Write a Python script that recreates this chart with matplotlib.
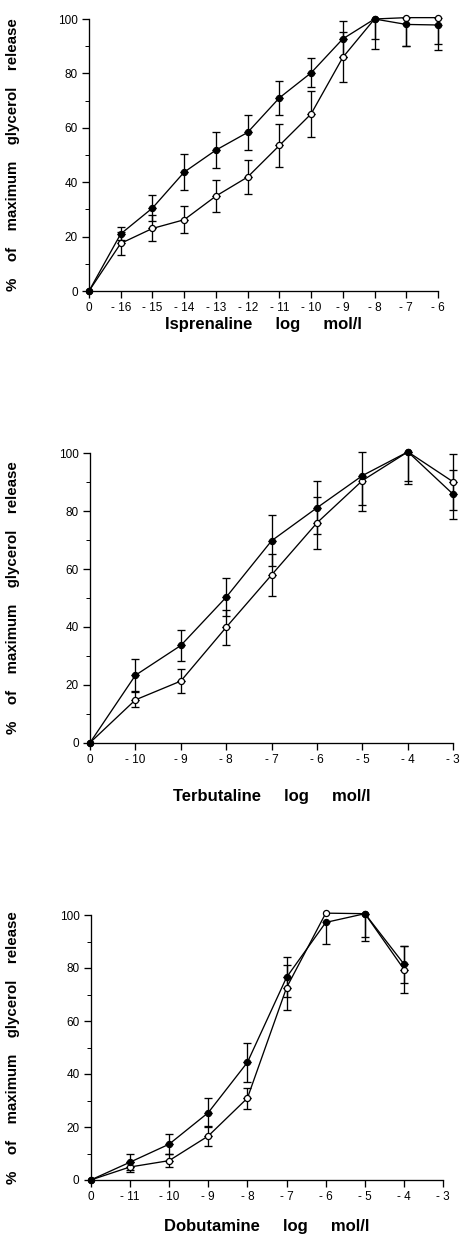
import matplotlib
matplotlib.use("Agg")
import matplotlib.pyplot as plt
import numpy as np

# ---------------- data ----------------
iso_labels = ["0", "-16", "-15", "-14", "-13", "-12", "-11", "-10", "-9", "-8", "-7", "-6"]
iso_filled = [0, 21, 30.5, 43.7, 51.8, 58.3, 71, 80.2, 92.7, 100, 98, 97.8]
iso_filled_err_lo = [0, 2.4, 4.7, 6.7, 6.7, 6.3, 6.2, 5.3, 6.7, 7.4, 7.9, 7.1]
iso_filled_err_up = [0, 2.4, 4.7, 6.7, 6.7, 6.3, 6.2, 5.3, 6.7, 0, 0, 0]
iso_open = [0, 17.5, 23, 26.2, 34.9, 41.9, 53.5, 65.1, 85.9, 100, 100.5, 100.5]
iso_open_err_lo = [0, 4.2, 4.8, 5, 6, 6.3, 7.8, 8.5, 9.2, 11, 10.5, 12]
iso_open_err_up = [0, 4.2, 4.8, 5, 6, 6.3, 7.8, 8.5, 9.2, 0, 0, 0]

ter_labels = ["0", "-10", "-9", "-8", "-7", "-6", "-5", "-4", "-3"]
ter_filled = [0, 23.3, 33.6, 50.3, 69.8, 81.2, 92.3, 100.5, 85.8]
ter_filled_err_lo = [0, 5.5, 5.2, 6.5, 8.8, 9.2, 10.2, 10, 8.6]
ter_filled_err_up = [0, 5.5, 5.2, 6.5, 8.8, 9.2, 8.3, 0, 8.4]
ter_open = [0, 14.8, 21.3, 39.9, 58.0, 76.0, 90.6, 100.5, 90.1]
ter_open_err_lo = [0, 2.6, 4.2, 6, 7.3, 9, 10.7, 11.2, 9.7]
ter_open_err_up = [0, 2.6, 4.2, 6, 7.3, 9, 0, 0, 9.8]

dob_labels = ["0", "-11", "-10", "-9", "-8", "-7", "-6", "-5", "-4", "-3"]
dob_filled = [0, 6.7, 13.5, 25.4, 44.4, 76.5, 97.2, 100.5, 81.4]
dob_filled_err_lo = [0, 3, 3.7, 5.5, 7.4, 7.5, 8.3, 10.2, 7]
dob_filled_err_up = [0, 3, 3.7, 5.5, 7.4, 7.5, 0, 0, 7]
dob_open = [0, 4.9, 7.3, 16.6, 30.9, 72.6, 100.7, 100.5, 79.4]
dob_open_err_lo = [0, 2, 2.4, 3.8, 4, 8.5, 0, 8.7, 9]
dob_open_err_up = [0, 2, 2.4, 3.8, 4, 8.5, 0, 0, 9]

y_ticks = [0, 20, 40, 60, 80, 100]
y_minor = [10, 30, 50, 70, 90]

ylabel_text = "%    of    maximum    glycerol    release"
xlabels = ["Isprenaline     log     mol/l",
           "Terbutaline     log     mol/l",
           "Dobutamine     log     mol/l"]

# ---------------- layout ----------------
W, H = 461, 1236
plt.rcParams['font.family'] = ['Liberation Sans', 'DejaVu Sans']
fig = plt.figure(figsize=(W / 100, H / 100), dpi=100)

panels = [
    (89, 438, 19, 291, iso_labels, iso_filled, iso_filled_err_lo, iso_filled_err_up,
     iso_open, iso_open_err_lo, iso_open_err_up, 324),
    (90, 453.3, 453.3, 742.7, ter_labels, ter_filled, ter_filled_err_lo, ter_filled_err_up,
     ter_open, ter_open_err_lo, ter_open_err_up, 796),
    (90.7, 443.3, 915, 1180, dob_labels, dob_filled, dob_filled_err_lo, dob_filled_err_up,
     dob_open, dob_open_err_lo, dob_open_err_up, 1227),
]

lw = 0.95
for i, (l, r, t, b, labels, yf, efl, efu, yo, eol, eou, xly) in enumerate(panels):
    ax = fig.add_axes([l / W, (H - b) / H, (r - l) / W, (b - t) / H])
    ax.set_xlim(0, len(labels) - 1)
    ax.set_ylim(0, 100)
    for s in ["top", "right"]:
        ax.spines[s].set_visible(False)
    for s in ["left", "bottom"]:
        ax.spines[s].set_linewidth(lw)
    ax.set_xticks(range(len(labels)))
    ax.set_xticklabels([lab.replace("-", "- ") for lab in labels])
    ax.set_yticks(y_ticks)
    ax.set_yticks(y_minor, minor=True)
    ax.tick_params(axis="both", which="major", length=5, width=lw, labelsize=8.5, pad=3, direction="out")
    ax.tick_params(axis="y", which="minor", length=3, width=0.7, direction="out")

    xo = np.arange(len(yo))
    xf = np.arange(len(yf))
    for xs, ys, elo, eup in [(xo, yo, eol, eou), (xf, yf, efl, efu)]:
        elo = np.array(elo, dtype=float)
        eup = np.array(eup, dtype=float)
        ys = np.array(ys, dtype=float)
        mlo = elo > 0
        ax.errorbar(xs[mlo], ys[mlo], yerr=[elo[mlo], np.zeros(mlo.sum())],
                    fmt="none", ecolor="black", elinewidth=lw, capsize=2.6,
                    capthick=lw, clip_on=False, zorder=3)
        mup = eup > 0
        ax.errorbar(xs[mup], ys[mup], yerr=[np.zeros(mup.sum()), eup[mup]],
                    fmt="none", ecolor="black", elinewidth=lw, capsize=2.6,
                    capthick=lw, clip_on=False, zorder=3)
    ax.plot(xo, yo, color="black", lw=lw, marker="o", ms=4.4, mfc="white",
            mec="black", mew=0.9, clip_on=False, zorder=4)
    ax.plot(xf, yf, color="black", lw=lw, marker="o", ms=4.4, mfc="black",
            mec="black", mew=0.9, clip_on=False, zorder=5)

    ax.set_ylabel(ylabel_text, fontsize=10.8, fontweight="bold")
    ax.yaxis.set_label_coords((20 - l) / (r - l), 0.5)

    fig.text(((l + r) / 2) / W, 1 - xly / H, xlabels[i], fontsize=12,
             fontweight="bold", ha="center", va="center")

fig.savefig("out.png", dpi=100)
